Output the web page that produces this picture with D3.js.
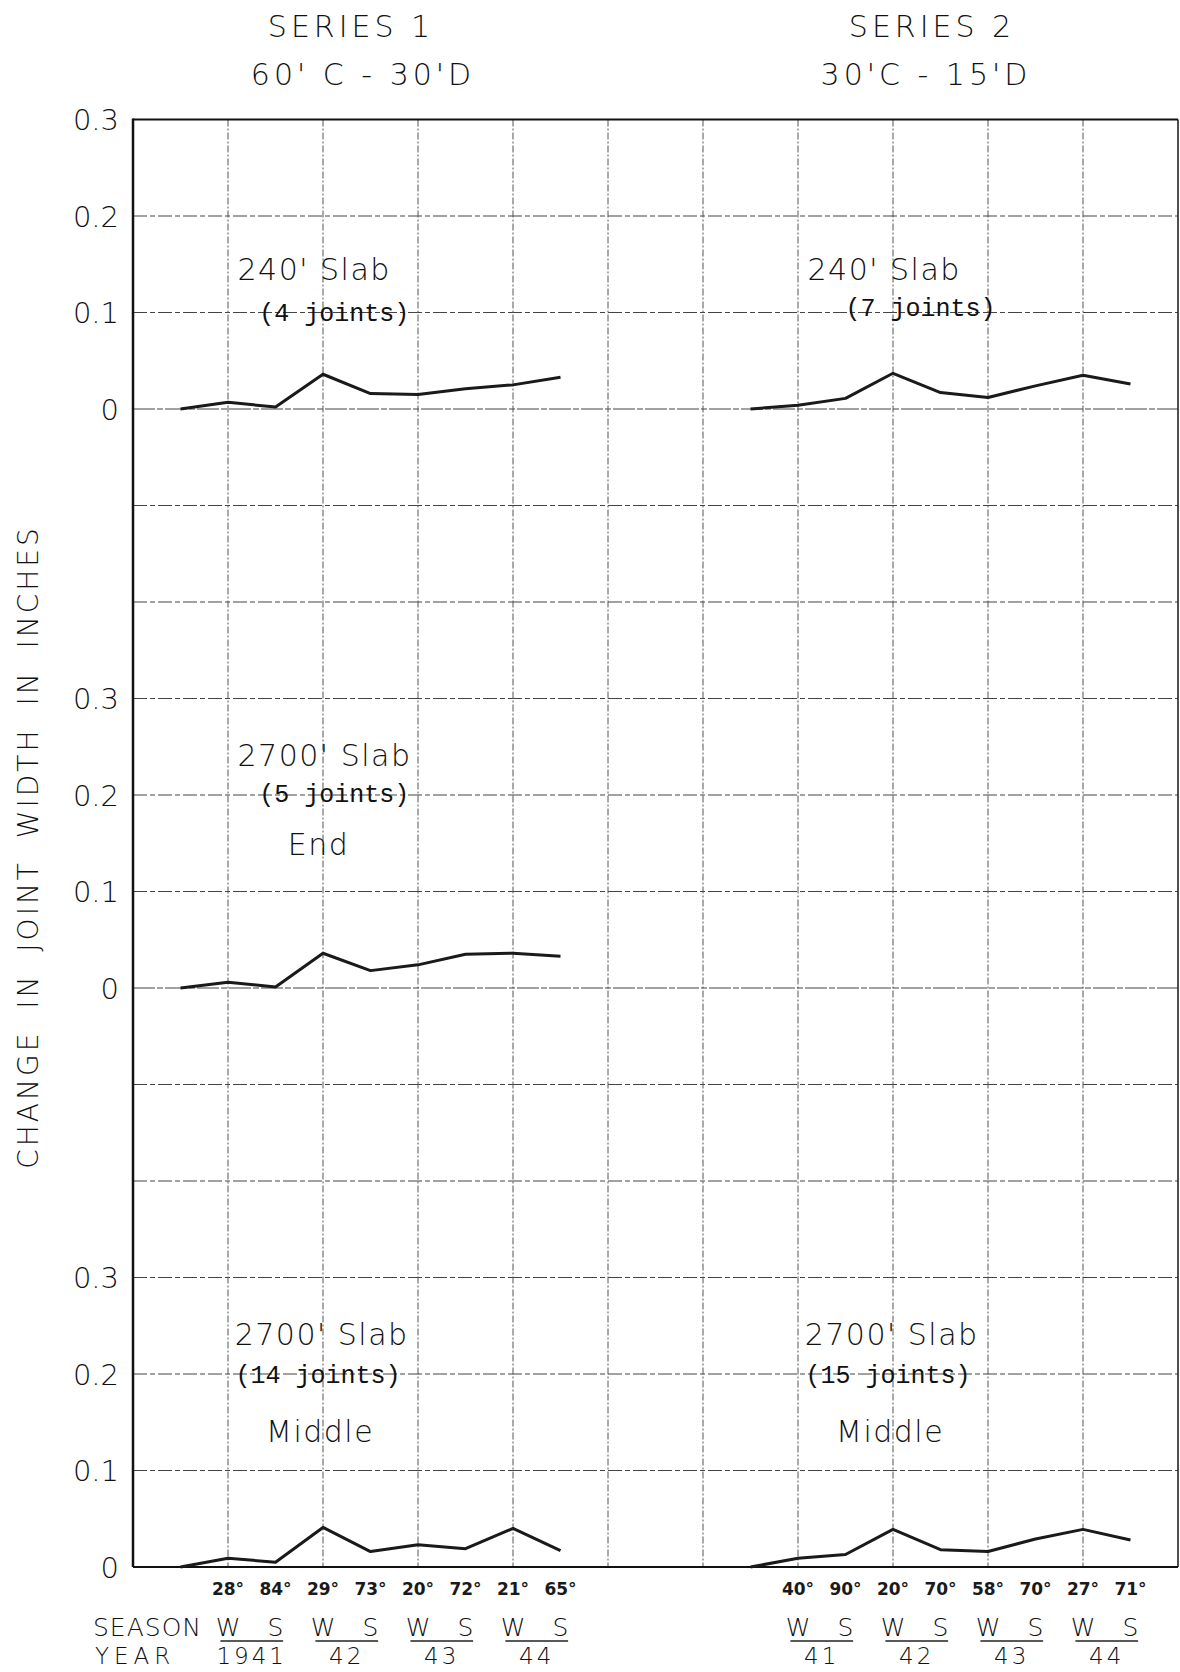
<!DOCTYPE html>
<html>
<head>
<meta charset="utf-8">
<script src="https://d3js.org/d3.v7.min.js"></script>
<style>
  body { margin: 0; background: #fff; }
  text { font-family: "DejaVu Sans", sans-serif; font-weight: 200; fill: #111; }
  .mono { font-family: "Liberation Mono", monospace; font-weight: normal; }
  .temp { font-weight: bold; fill: #1a1a1a; }
</style>
</head>
<body>
<svg id="chart" width="1180" height="1672"></svg>
<script>
  // labels along the bottom
  const seasons = ["W", "S", "W", "S", "W", "S", "W", "S"]
  const years1 = ["1941", "42", "43", "44"]
  const years2 = ["41", "42", "43", "44"]
  const temps1 = ["28°", "84°", "29°", "73°", "20°", "72°", "21°", "65°"]
  const temps2 = ["40°", "90°", "20°", "70°", "58°", "70°", "27°", "71°"]
  const yTicks = [0, 0.1, 0.2, 0.3]

  // change in joint width (in.), first value is the start of the test
  const s1_240 = [0, 0.007, 0.002, 0.036, 0.016, 0.015, 0.021, 0.025, 0.033]
  const s2_240 = [0, 0.004, 0.011, 0.037, 0.017, 0.012, 0.024, 0.035, 0.026]
  const s1_2700end = [0, 0.006, 0.001, 0.036, 0.018, 0.024, 0.035, 0.036, 0.033]
  const s1_2700mid = [0, 0.009, 0.005, 0.041, 0.016, 0.023, 0.019, 0.040, 0.017]
  const s2_2700mid = [0, 0.009, 0.013, 0.039, 0.018, 0.016, 0.029, 0.039, 0.028]

  const svg = d3.select("#chart")
  const x = d3.scaleLinear().domain([0, 11]).range([133, 1178])
  const row = d3.scaleLinear().domain([0, 15]).range([119.5, 1567])

  // series 1 starts half a column in, series 2 at column 6.5
  const start1 = 0.5, start2 = 6.5

  const panels = [
    { top: 0, lines: [[s1_240, start1], [s2_240, start2]],
      notes: [
        { t: "240' Slab", c: 1.1, r: 1.66 },
        { t: "(4 joints)", c: 1.33, r: 2.09, mono: true },
        { t: "240' Slab", c: 7.1, r: 1.66 },
        { t: "(7 joints)", c: 7.5, r: 2.04, mono: true }
      ] },
    { top: 6, lines: [[s1_2700end, start1]],
      notes: [
        { t: "2700' Slab", c: 1.1, r: 6.7 },
        { t: "(5 joints)", c: 1.33, r: 7.07, mono: true },
        { t: "End", c: 1.63, r: 7.62 }
      ] },
    { top: 12, lines: [[s1_2700mid, start1], [s2_2700mid, start2]],
      notes: [
        { t: "2700' Slab", c: 1.07, r: 12.7 },
        { t: "(14 joints)", c: 1.08, r: 13.09, mono: true },
        { t: "Middle", c: 1.4, r: 13.7 },
        { t: "2700' Slab", c: 7.07, r: 12.7 },
        { t: "(15 joints)", c: 7.08, r: 13.09, mono: true },
        { t: "Middle", c: 7.4, r: 13.7 }
      ] }
  ]

  // grid
  const grid = svg.append("g")
  grid.selectAll(".h").data(d3.range(16)).enter().append("line")
    .attr("x1", x(0)).attr("x2", x(11))
    .attr("y1", d => row(d)).attr("y2", d => row(d))
    .attr("stroke", "#444").attr("stroke-width", 1.1)
    .attr("stroke-dasharray", d => (d % 6 === 3) ? "22,2,6,2" : "14,3,5,3")
  grid.selectAll(".v").data(d3.range(1, 11)).enter().append("line")
    .attr("x1", d => x(d)).attr("x2", d => x(d))
    .attr("y1", row(0)).attr("y2", row(15))
    .attr("stroke", "#555").attr("stroke-width", 1)
    .attr("stroke-dasharray", "7,2,2,2")
  // frame
  grid.append("line").attr("x1", x(0)).attr("x2", x(0)).attr("y1", row(0) - 1).attr("y2", row(15))
    .attr("stroke", "#111").attr("stroke-width", 2.5)
  grid.append("line").attr("x1", x(0)).attr("x2", x(11)).attr("y1", row(0)).attr("y2", row(0))
    .attr("stroke", "#111").attr("stroke-width", 2.2)
  grid.append("line").attr("x1", x(11)).attr("x2", x(11)).attr("y1", row(0)).attr("y2", row(15))
    .attr("stroke", "#222").attr("stroke-width", 1.6)
  grid.append("line").attr("x1", x(0)).attr("x2", x(11)).attr("y1", row(15)).attr("y2", row(15))
    .attr("stroke", "#111").attr("stroke-width", 2)

  panels.forEach(p => {
    const y = d3.scaleLinear().domain([0, 0.3]).range([row(p.top + 3), row(p.top)])

    const ax = svg.append("g")
      .attr("transform", "translate(" + (x(0) - 11) + ",0)")
      .call(d3.axisLeft(y).tickValues(yTicks).tickSize(0)
        .tickFormat(d => d === 0 ? "0" : d.toFixed(1)))
    ax.select(".domain").remove()
    ax.selectAll("text").attr("font-size", 29).attr("font-family", "DejaVu Sans")
      .attr("fill", "#111").attr("dy", "0.36em")

    p.lines.forEach(([vals, st]) => {
      const line = d3.line().x((d, i) => x(st + i * 0.5)).y(d => y(d))
      svg.append("path").datum(vals).attr("d", line)
        .attr("fill", "none").attr("stroke", "#1a1a1a").attr("stroke-width", 3)
        .attr("stroke-linejoin", "round")
    })

    p.notes.forEach(n => {
      svg.append("text").attr("class", n.mono ? "mono" : null)
        .attr("x", x(n.c)).attr("y", row(n.r))
        .attr("font-size", n.mono ? 25 : 30)
        .attr("letter-spacing", n.mono ? 0 : 1.5)
        .text(n.t)
    })
  })

  // titles
  const titles = [
    { t: "SERIES  1", cx: 351, y: 37 }, { t: "60' C - 30'D", cx: 363, y: 85 },
    { t: "SERIES 2", cx: 932, y: 37 }, { t: "30'C - 15'D", cx: 926, y: 85 }
  ]
  svg.selectAll(".title").data(titles).enter().append("text")
    .attr("x", d => d.cx).attr("y", d => d.y).attr("text-anchor", "middle")
    .attr("font-size", 30).attr("letter-spacing", 4).text(d => d.t)

  // y axis title
  svg.append("text")
    .attr("transform", "translate(38,847) rotate(-90)")
    .attr("text-anchor", "middle").attr("font-size", 28)
    .attr("letter-spacing", 3).attr("word-spacing", 10)
    .text("CHANGE IN JOINT WIDTH IN INCHES")

  // bottom labels
  const bottom = [[temps1, years1, start1], [temps2, years2, start2]]
  bottom.forEach(([temps, years, st]) => {
    svg.selectAll(null).data(temps).enter().append("text")
      .attr("class", "temp")
      .attr("x", (d, i) => x(st + 0.5 + i * 0.5)).attr("y", 1595)
      .attr("text-anchor", "middle").attr("font-size", 17)
      .text(d => d)
    svg.selectAll(null).data(seasons).enter().append("text")
      .attr("x", (d, i) => x(st + 0.5 + i * 0.5)).attr("y", 1636)
      .attr("text-anchor", "middle").attr("font-size", 25)
      .text(d => d)
    svg.selectAll(null).data(years).enter().append("line")
      .attr("x1", (d, i) => x(st + 0.42 + i)).attr("x2", (d, i) => x(st + 1.08 + i))
      .attr("y1", 1641).attr("y2", 1641)
      .attr("stroke", "#222").attr("stroke-width", 1.6)
    svg.selectAll(null).data(years).enter().append("text")
      .attr("x", (d, i) => x(st + 0.75 + i)).attr("y", 1664)
      .attr("text-anchor", "middle").attr("font-size", 23).attr("letter-spacing", 3)
      .text(d => d)
  })
  svg.append("text").attr("x", 93).attr("y", 1636).attr("font-size", 25)
    .attr("letter-spacing", 1).text("SEASON")
  svg.append("text").attr("x", 95).attr("y", 1664).attr("font-size", 23)
    .attr("letter-spacing", 5).text("YEAR")
</script>
</body>
</html>
